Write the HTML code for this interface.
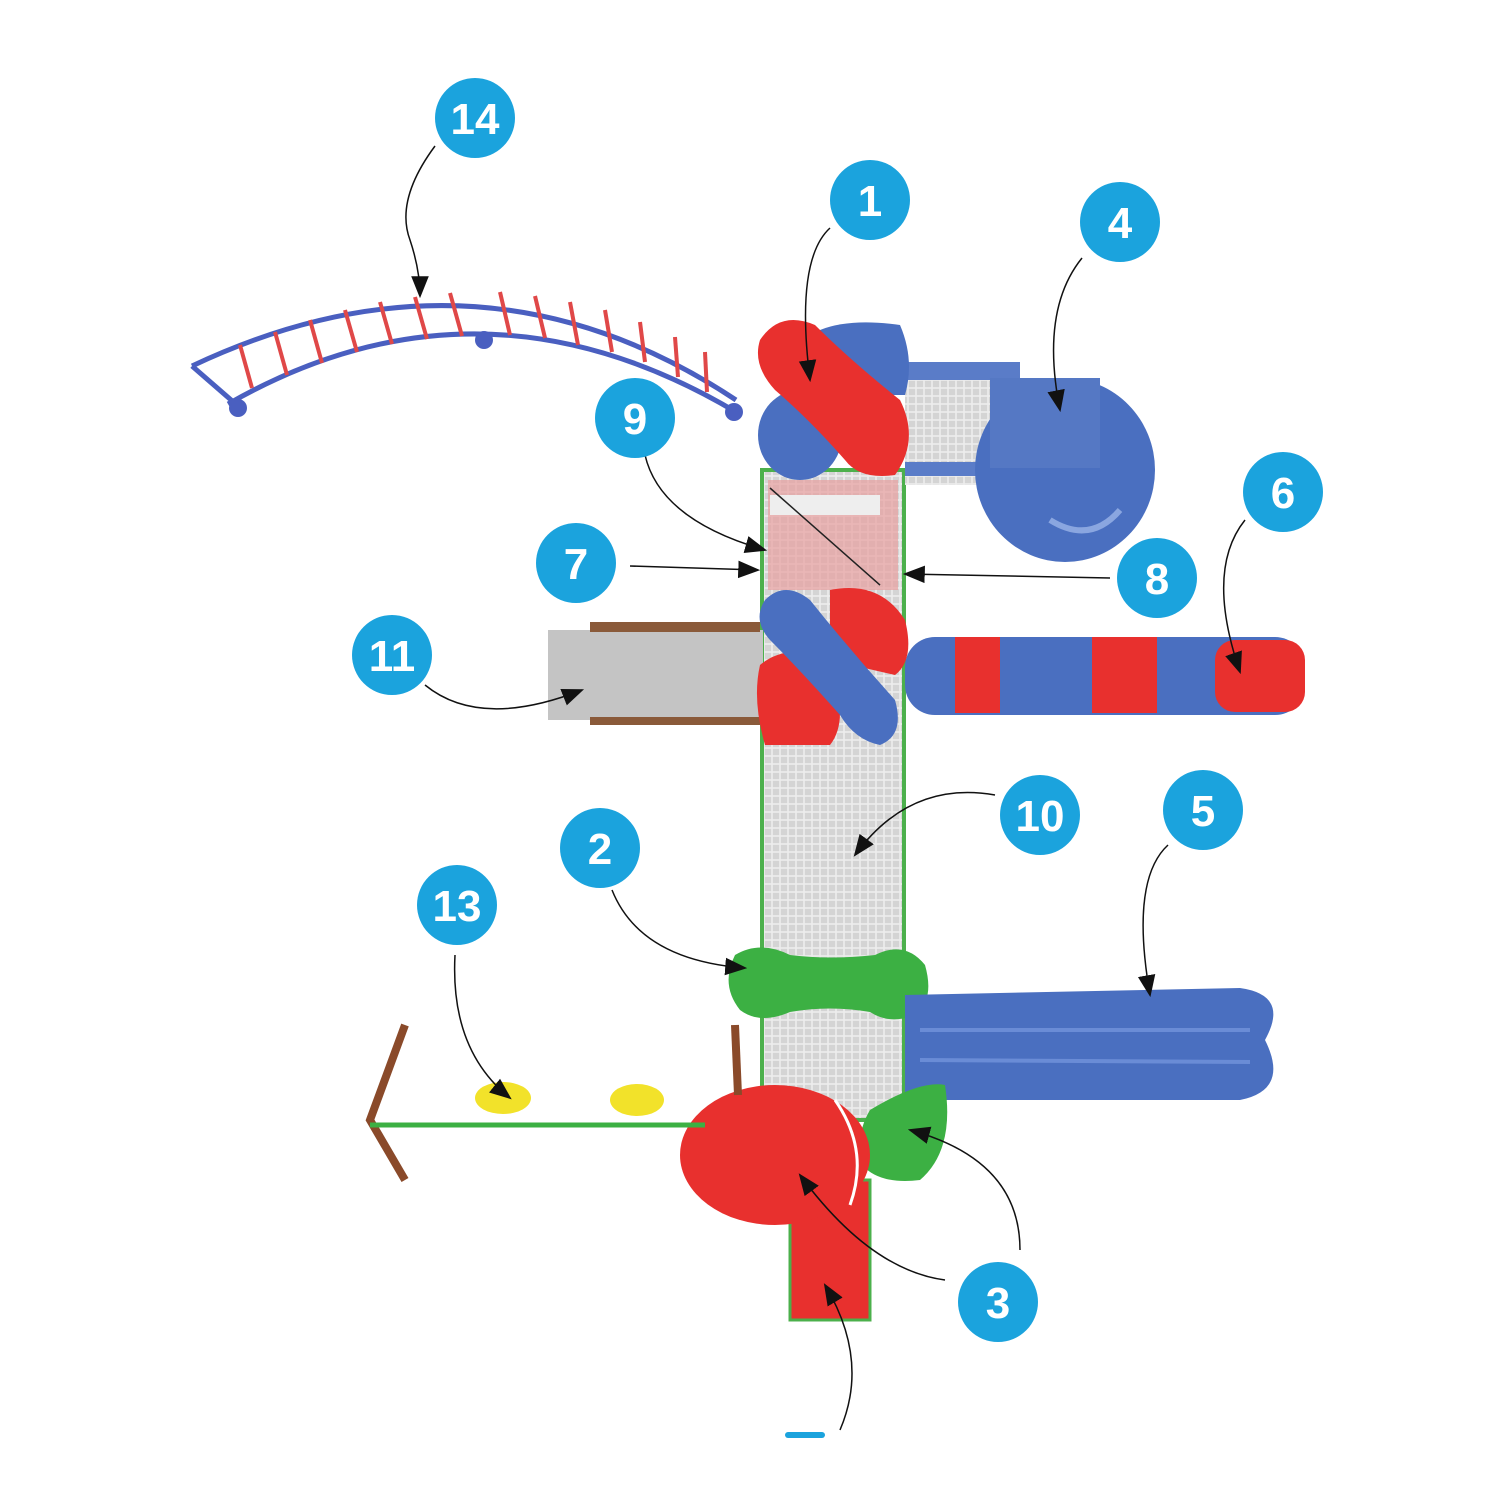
<!DOCTYPE html>
<html><head><style>
html,body{margin:0;padding:0;background:#fff;}
svg{display:block;}
text{font-family:"Liberation Sans",sans-serif;font-weight:bold;fill:#fff;text-anchor:middle;}
</style></head><body>
<svg width="1512" height="1512" viewBox="0 0 1512 1512" xmlns="http://www.w3.org/2000/svg">
<defs>
<marker id="ar" viewBox="0 0 10 10" refX="9" refY="5" markerUnits="userSpaceOnUse" markerWidth="22" markerHeight="22" orient="auto"><path d="M0,1 L10,5 L0,9 z" fill="#111"/></marker>
<pattern id="grid" width="8" height="8" patternUnits="userSpaceOnUse"><rect width="8" height="8" fill="#d4d4d4"/><path d="M0,4 H8 M4,0 V8" stroke="#eee" stroke-width="1.5"/></pattern>
</defs>

<g>
<path d="M192,366 Q480,230 736,400" fill="none" stroke="#4a5fc0" stroke-width="5"/>
<path d="M228,404 Q480,260 736,412" fill="none" stroke="#4a5fc0" stroke-width="5"/>
<path d="M192,366 L238,406" stroke="#4a5fc0" stroke-width="5"/>
<g stroke="#e04848" stroke-width="4">
<line x1="240" y1="345" x2="252" y2="388"/><line x1="275" y1="332" x2="287" y2="375"/><line x1="310" y1="320" x2="322" y2="363"/><line x1="345" y1="310" x2="357" y2="352"/><line x1="380" y1="302" x2="392" y2="344"/><line x1="415" y1="297" x2="427" y2="339"/><line x1="450" y1="293" x2="462" y2="336"/><line x1="500" y1="292" x2="510" y2="335"/><line x1="535" y1="296" x2="545" y2="338"/><line x1="570" y1="302" x2="578" y2="345"/><line x1="605" y1="310" x2="612" y2="352"/><line x1="640" y1="322" x2="645" y2="362"/><line x1="675" y1="337" x2="678" y2="377"/><line x1="705" y1="352" x2="707" y2="392"/>
</g>
<circle cx="238" cy="408" r="9" fill="#4a5fc0"/><circle cx="484" cy="340" r="9" fill="#4a5fc0"/><circle cx="734" cy="412" r="9" fill="#4a5fc0"/>
</g>

<rect x="762" y="470" width="142" height="650" fill="url(#grid)" stroke="#4cb04c" stroke-width="4"/>
<rect x="768" y="480" width="130" height="110" fill="#e8a0a0" opacity="0.7"/>
<rect x="770" y="495" width="110" height="20" fill="#eee"/>
<line x1="770" y1="488" x2="880" y2="585" stroke="#222" stroke-width="1.5"/>

<rect x="905" y="365" width="115" height="120" fill="url(#grid)"/>
<rect x="905" y="362" width="115" height="18" fill="#5a7cc8"/>
<rect x="905" y="462" width="100" height="14" fill="#5a7cc8"/>
<ellipse cx="1065" cy="470" rx="90" ry="92" fill="#4a6fc0"/>
<rect x="990" y="378" width="110" height="90" fill="#5578c4"/>
<path d="M1050,520 Q1090,545 1120,510" stroke="#8aa6e0" stroke-width="6" fill="none"/>

<path d="M820,330 Q850,318 900,325 Q915,360 905,395 L830,395 Z" fill="#4a6fc0"/>
<ellipse cx="800" cy="435" rx="42" ry="45" fill="#4a6fc0"/>
<path d="M760,340 Q780,310 815,325 Q850,360 900,400 Q920,440 895,475 Q860,480 845,460 Q810,420 775,390 Q752,365 760,340 Z" fill="#e8302e"/>

<rect x="905" y="637" width="400" height="78" rx="30" fill="#4a6fc0"/>
<g fill="#e8302e"><rect x="955" y="637" width="45" height="76"/><rect x="1092" y="637" width="65" height="76"/><rect x="1215" y="640" width="90" height="72" rx="20"/></g>
<rect x="548" y="630" width="215" height="90" fill="#c4c4c4"/>
<rect x="590" y="622" width="170" height="10" fill="#8a5a3a"/><rect x="590" y="717" width="170" height="8" fill="#8a5a3a"/>
<path d="M830,590 Q880,580 905,620 Q915,660 895,675 L830,660 Z" fill="#e8302e"/>
<path d="M760,665 Q790,640 830,665 Q850,720 830,745 L765,745 Q752,700 760,665 Z" fill="#e8302e"/>
<path d="M765,600 Q785,580 810,600 Q850,650 895,700 Q905,735 880,745 Q855,740 840,715 Q800,670 770,640 Q752,620 765,600 Z" fill="#4a6fc0"/>

<path d="M735,955 Q760,940 790,955 Q830,960 875,955 Q905,940 925,965 Q935,1000 915,1015 Q890,1025 870,1012 Q830,1005 790,1012 Q760,1025 740,1010 Q720,985 735,955 Z" fill="#3cb043"/>

<path d="M905,995 L1240,988 Q1290,995 1265,1040 Q1290,1090 1240,1100 L905,1100 Z" fill="#4a6fc0"/>
<path d="M920,1030 L1250,1030 M920,1060 L1250,1062" stroke="#6a8cd6" stroke-width="4"/>

<path d="M870,1110 Q920,1080 945,1085 Q955,1150 920,1180 Q880,1185 862,1165 Q855,1135 870,1110 Z" fill="#3cb043"/>

<rect x="790" y="1180" width="80" height="140" fill="#e8302e" stroke="#4cb04c" stroke-width="3"/>
<ellipse cx="775" cy="1155" rx="95" ry="70" fill="#e8302e"/>
<path d="M835,1100 Q870,1150 850,1205" stroke="#fff" stroke-width="3" fill="none"/>

<path d="M405,1025 L370,1120 L405,1180" stroke="#8a4a2a" stroke-width="8" fill="none"/>
<line x1="370" y1="1125" x2="705" y2="1125" stroke="#3cb043" stroke-width="5"/>
<path d="M735,1025 L738,1095" stroke="#8a4a2a" stroke-width="8"/>
<ellipse cx="503" cy="1098" rx="28" ry="16" fill="#f2e22a"/><ellipse cx="637" cy="1100" rx="27" ry="16" fill="#f2e22a"/>

<g fill="none" stroke="#111" stroke-width="1.5">
<path d="M435,146 Q395,200 410,240 Q420,270 420,296" marker-end="url(#ar)"/>
<path d="M830,228 Q795,260 810,380" marker-end="url(#ar)"/>
<path d="M1082,258 Q1040,310 1060,410" marker-end="url(#ar)"/>
<path d="M645,455 Q660,520 765,550" marker-end="url(#ar)"/>
<path d="M630,566 L758,570" marker-end="url(#ar)"/>
<path d="M1110,578 L905,574" marker-end="url(#ar)"/>
<path d="M1245,520 Q1205,570 1240,672" marker-end="url(#ar)"/>
<path d="M425,685 Q480,730 582,690" marker-end="url(#ar)"/>
<path d="M995,795 Q910,780 855,855" marker-end="url(#ar)"/>
<path d="M1168,845 Q1130,880 1150,995" marker-end="url(#ar)"/>
<path d="M612,890 Q640,960 745,968" marker-end="url(#ar)"/>
<path d="M455,955 Q450,1050 510,1098" marker-end="url(#ar)"/>
<path d="M1020,1250 Q1020,1160 910,1130" marker-end="url(#ar)"/>
<path d="M945,1280 Q870,1270 800,1175" marker-end="url(#ar)"/>
<path d="M840,1430 Q870,1360 825,1285" marker-end="url(#ar)"/>
</g>

<g fill="#1ba3dd">
<circle cx="475" cy="118" r="40"/><circle cx="870" cy="200" r="40"/><circle cx="1120" cy="222" r="40"/>
<circle cx="635" cy="418" r="40"/><circle cx="1283" cy="492" r="40"/><circle cx="576" cy="563" r="40"/>
<circle cx="1157" cy="578" r="40"/><circle cx="392" cy="655" r="40"/><circle cx="1040" cy="815" r="40"/>
<circle cx="1203" cy="810" r="40"/><circle cx="600" cy="848" r="40"/><circle cx="457" cy="905" r="40"/>
<circle cx="998" cy="1302" r="40"/>
</g>
<g font-size="44">
<text x="475" y="134">14</text><text x="870" y="216">1</text><text x="1120" y="238">4</text>
<text x="635" y="434">9</text><text x="1283" y="508">6</text><text x="576" y="579">7</text>
<text x="1157" y="594">8</text><text x="392" y="671">11</text><text x="1040" y="831">10</text>
<text x="1203" y="826">5</text><text x="600" y="864">2</text><text x="457" y="921">13</text>
<text x="998" y="1318">3</text>
</g>
<rect x="785" y="1432" width="40" height="6" rx="3" fill="#1ba3dd"/>
</svg>
</body></html>
